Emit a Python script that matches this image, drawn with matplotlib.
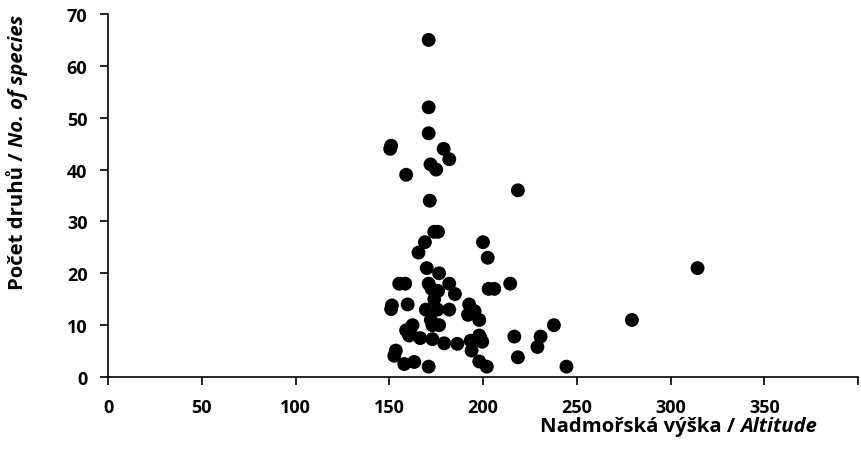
import matplotlib
matplotlib.use("Agg")
import matplotlib.pyplot as plt

plt.rcParams['font.family'] = ['Open Sans', 'DejaVu Sans']

# altitude (m) and number of species
altitude = [171, 171, 171, 151, 150.5, 179, 182, 172, 175, 159,
            218.6, 171.6, 174, 176, 169, 200, 165.6, 202.5, 170, 176.6,
            155.3, 158.5, 171, 182, 172.6, 203, 206, 214.5, 176, 185,
            174, 151.4, 151, 159.8, 192.6, 169.5, 175.7, 182, 195.5, 192,
            198, 172.2, 173, 162.4, 159, 176.6, 161.5, 160.6, 166.5, 173,
            179.3, 186.3, 193.4, 198.5, 198, 199.6, 193.9, 153.5, 152.7, 158,
            163.3, 171, 198, 202, 216.7, 218.6, 230.7, 229, 237.8, 244.5,
            279.4, 314.4]
species = [65, 52, 47, 44.6, 44, 44, 42, 41, 40, 39,
           36, 34, 28, 28, 26, 26, 24, 23, 21, 20,
           18, 18, 18, 18, 17, 17, 17, 18, 16.6, 16,
           15, 13.8, 13.1, 14, 14, 13, 13, 13, 12.7, 12,
           11, 11, 10, 10, 9, 10, 8.3, 8, 7.5, 7.3,
           6.5, 6.4, 7, 7.6, 8, 6.8, 5.1, 5.1, 4.1, 2.5,
           2.9, 2, 3, 2, 7.8, 3.8, 7.8, 5.8, 10, 2,
           11, 21]

xticks = list(range(0, 401, 50))
xticklabels = [str(v) if v < 400 else '' for v in xticks]
yticks = list(range(0, 71, 10))

fs = 13      # tick labels
tfs = 14.6   # axis titles

fig = plt.figure(figsize=(8.62, 4.64), dpi=100)
ax = fig.add_axes([0.1253, 0.1853, 0.8701, 0.7824])

ax.scatter(altitude, species, s=100, color='black', edgecolors='none', clip_on=False, zorder=3)

ax.set_xlim(0, 400)
ax.set_ylim(0, 70)
ax.set_xticks(xticks)
ax.set_xticklabels(xticklabels)
ax.set_yticks(yticks)
for s in ['top', 'right']:
    ax.spines[s].set_visible(False)
for s in ['left', 'bottom']:
    ax.spines[s].set_linewidth(1.2)
ax.tick_params(direction='out', length=5.8, width=1.2, labelsize=fs, pad=9)
for lab in ax.get_xticklabels() + ax.get_yticklabels():
    lab.set_fontweight('bold')

# x axis title: bold part + bold italic part
t1 = fig.text(540 / 862, 1 - 427 / 464, 'Nadmořská výška / ', fontsize=tfs,
              fontweight='bold', ha='left', va='center')
ax.annotate('Altitude', xy=(1, 0.5), xycoords=t1, fontsize=tfs, fontweight='bold',
            fontstyle='italic', ha='left', va='center', annotation_clip=False)

# y axis title
t2 = fig.text(18 / 862, 1 - 290 / 464, 'Počet druhů / ', fontsize=tfs, fontweight='bold',
              rotation=90, ha='center', va='bottom')
ax.annotate('No. of species', xy=(0.5, 1), xycoords=t2, fontsize=tfs, fontweight='bold',
            fontstyle='italic', rotation=90, ha='center', va='bottom', annotation_clip=False)

fig.savefig('out.png', dpi=100)
